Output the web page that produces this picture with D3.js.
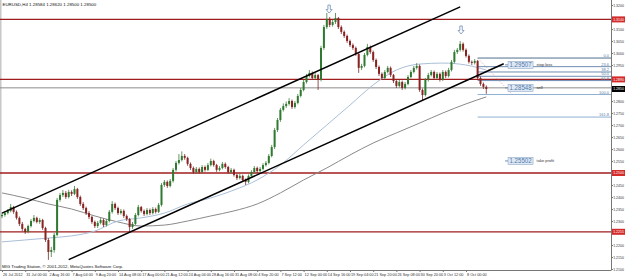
<!DOCTYPE html>
<html>
<head>
<meta charset="utf-8">
<script src="https://cdn.jsdelivr.net/npm/d3@7/dist/d3.min.js"></script>
<style>
body{margin:0;background:#fff;}
svg{display:block;font-family:"Liberation Sans",Arial,sans-serif;}
</style>
</head>
<body>
<div id="chart"></div>
<script>
// EURUSD H4, prices in points (x 0.0001)
var firstOpen = 12320;
var closePts = [
12325,12333,12342,12358,12338,12313,12288,12267,12254,12279,
12300,12313,12296,12304,12271,12221,12171,12179,12242,12388,
12408,12417,12400,12421,12413,12433,12400,12371,12354,12333,
12317,12296,12279,12292,12304,12283,12300,12338,12371,12354,
12333,12342,12321,12308,12275,12288,12325,12358,12342,12329,
12346,12333,12350,12338,12367,12450,12463,12446,12467,12513,
12542,12554,12571,12563,12538,12521,12504,12517,12504,12525,
12513,12533,12550,12533,12513,12521,12538,12525,12504,12513,
12492,12479,12488,12471,12463,12488,12504,12521,12508,12517,
12533,12542,12571,12608,12679,12721,12763,12779,12788,12800,
12775,12792,12821,12846,12879,12904,12917,12896,12908,12888,
13021,13108,13142,13117,13129,13146,13108,13088,13071,13050,
13033,13021,12996,12938,12946,12992,13025,13004,12971,12942,
12913,12896,12921,12938,12908,12883,12863,12879,12854,12871,
12900,12921,12938,12946,12846,12825,12888,12908,12921,12896,
12913,12888,12921,12904,12929,12963,13004,13013,13038,13013,
12988,12963,12959,12967,12896,12871,12859,12850];
var highPts = [
12334,12340,12350,12371,12363,12344,12319,12296,12272,12285,
12308,12325,12318,12312,12309,12276,12229,12192,12250,12396,
12417,12429,12425,12430,12428,12446,12438,12406,12379,12360,
12341,12322,12302,12300,12313,12310,12308,12346,12383,12377,
12360,12350,12348,12327,12313,12296,12333,12367,12363,12348,
12354,12352,12358,12356,12375,12458,12471,12469,12475,12521,
12550,12579,12590,12579,12568,12544,12527,12525,12523,12533,
12531,12542,12560,12555,12538,12529,12546,12544,12530,12521,
12518,12497,12496,12493,12477,12494,12512,12529,12527,12525,
12541,12550,12579,12617,12688,12729,12771,12790,12798,12812,
12806,12800,12829,12854,12888,12913,12929,12923,12917,12913,
13030,13117,13167,13150,13138,13167,13150,13115,13094,13077,
13056,13040,13027,13002,12955,13000,13038,13031,13010,12977,
12948,12919,12929,12946,12944,12913,12888,12888,12885,12879,
12908,12929,12946,12958,12952,12852,12896,12917,12929,12927,
12921,12919,12929,12927,12938,12971,13013,13021,13050,13044,
13019,12994,12969,12975,12971,12902,12877,12865];
var lowPts = [
12312,12318,12327,12336,12330,12306,12279,12258,12246,12249,
12273,12294,12290,12288,12263,12213,12138,12150,12168,12236,
12380,12400,12392,12394,12404,12408,12392,12363,12346,12325,
12308,12288,12271,12271,12286,12275,12277,12294,12331,12346,
12325,12327,12313,12300,12254,12267,12282,12319,12335,12321,
12323,12325,12327,12331,12333,12360,12442,12438,12440,12460,
12506,12535,12548,12555,12530,12513,12496,12498,12497,12499,
12506,12508,12527,12526,12505,12507,12515,12518,12497,12498,
12485,12471,12473,12463,12450,12457,12482,12498,12500,12502,
12511,12527,12536,12565,12600,12671,12713,12756,12771,12781,
12767,12768,12786,12815,12840,12873,12898,12888,12890,12846,
12882,13013,13100,13108,13110,13121,13100,13079,13063,13042,
13025,13013,12988,12917,12929,12940,12986,12996,12963,12933,
12904,12888,12890,12915,12900,12875,12854,12856,12846,12848,
12865,12894,12915,12931,12838,12804,12819,12881,12902,12888,
12890,12881,12883,12896,12898,12923,12956,12996,13006,13006,
12981,12956,12950,12952,12888,12863,12850,12830];

// moving averages, read every 8 bars
var maIdx  = [0,8,16,24,32,40,48,56,64,72,80,88,96,104,112,120,128,136,144,152,160,167];
var maSlow = [12417,12396,12371,12350,12321,12296,12279,12283,12300,12321,12342,12371,12417,12471,12521,12575,12625,12667,12708,12750,12788,12817];
var maFast = [12213,12221,12229,12238,12258,12300,12313,12333,12371,12396,12429,12471,12533,12617,12700,12783,12867,12929,12954,12958,12950,12929];

var xLabels = ["26 Jul 2012","31 Jul 00:00","2 Aug 16:00","7 Aug 04:00","9 Aug 20:00","14 Aug 08:00","17 Aug 00:00",
  "21 Aug 12:00","24 Aug 04:00","28 Aug 16:00","31 Aug 08:00","4 Sep 20:00","7 Sep 12:00","12 Sep 00:00",
  "14 Sep 16:00","19 Sep 04:00","21 Sep 20:00","26 Sep 08:00","30 Sep 20:00","3 Oct 12:00","8 Oct 00:00"];
var xLabelIdx = [0,8,16,24,32,40,48,56,64,72,80,88,96,104,112,120,128,136,144,152,160];

var priceTicks = [1.3200,1.3150,1.3100,1.3050,1.3000,1.2950,1.2900,1.2850,1.2800,1.2750,1.2700,1.2650,
  1.2600,1.2550,1.2500,1.2450,1.2400,1.2350,1.2300,1.2250,1.2200,1.2150,1.2100];

var redLevels = [1.3140, 1.2890, 1.2500, 1.2255];
var bidPrice = 1.2850;
var sellPrice = 1.28548;

var channelUp = [[0, 1.2333], [158, 1.3192]];
var channelDn = [[23, 1.2139], [173, 1.2955]];

var fibRatios = [0, 23.6, 38.2, 50.0, 61.8, 100.0, 161.8];
var fibFrom = 164, fibHigh = 1.2979, fibLow = 1.2827, fibTo = 176;

var orders = [
  {label: "1.29507", price: 1.29507, name: "stop loss"},
  {label: "1.28548", price: 1.28548, name: "sell"},
  {label: "1.25502", price: 1.25502, name: "take profit"}];
var orderIdx = 174.5;

var arrows = [[112.8, 1.3183], [158.3, 1.3096]];

var W = 625, H = 277;
var plotR = 611, plotB = 270;

var svg = d3.select("#chart").append("svg").attr("width", W).attr("height", H);

var x = d3.scaleLinear().domain([0, 210]).range([2, 2 + 2.9 * 210]);
var y = d3.scaleLinear().domain([1.2100, 1.3200]).range([269, 5]);

svg.append("rect").attr("width", W).attr("height", H).attr("fill", "#fff");
svg.append("rect").attr("x", 0).attr("y", 0).attr("width", 1.5).attr("height", plotB).attr("fill", "#c8c8c8");

var plot = svg.append("g");

// horizontal levels
plot.selectAll("line.red").data(redLevels).enter().append("line")
  .attr("x1", 0).attr("x2", plotR).attr("y1", function(d){ return y(d); }).attr("y2", function(d){ return y(d); })
  .attr("stroke", "#a11d1d").attr("stroke-width", 1.3);

plot.append("line").attr("x1", 0).attr("x2", plotR).attr("y1", y(sellPrice)).attr("y2", y(sellPrice))
  .attr("stroke", "#8c8c8c").attr("stroke-width", 1);

// fibo
var fibG = plot.append("g");
fibRatios.forEach(function(r){
  var p = fibHigh - (fibHigh - fibLow) * r / 100;
  var col = r >= 100 ? "#8fb0d2" : "#6f8db3";
  if (r == 0) col = "#4f6f8f";
  fibG.append("line").attr("x1", x(fibFrom)).attr("x2", plotR).attr("y1", y(p)).attr("y2", y(p))
    .attr("stroke", col).attr("stroke-width", 1);
  fibG.append("text").attr("x", 609).attr("y", y(p) - 1).attr("text-anchor", "end")
    .attr("font-size", "4px").attr("fill", "#5b7ea8").text(r.toFixed(1));
});
fibG.append("line").attr("x1", x(fibFrom)).attr("y1", y(fibHigh)).attr("x2", x(fibTo)).attr("y2", y(fibLow))
  .attr("stroke", "#d08a8a").attr("stroke-width", 0.8).attr("stroke-dasharray", "1,1.5");

// moving averages
var maLine = d3.line().x(function(d){ return x(d[0]); }).y(function(d){ return y(d[1] / 10000); }).curve(d3.curveMonotoneX);
plot.append("path").attr("d", maLine(maIdx.map(function(d, i){ return [d, maSlow[i]]; })))
  .attr("fill", "none").attr("stroke", "#8a8a8a").attr("stroke-width", 1);
plot.append("path").attr("d", maLine(maIdx.map(function(d, i){ return [d, maFast[i]]; })))
  .attr("fill", "none").attr("stroke", "#a9bfd8").attr("stroke-width", 1);

// candles
var candles = closePts.map(function(c, i){
  return {i: i, o: (i == 0 ? firstOpen : closePts[i-1]) / 10000, c: c / 10000, h: highPts[i] / 10000, l: lowPts[i] / 10000};
});
var cg = plot.selectAll("g.candle").data(candles).enter().append("g");
cg.append("line")
  .attr("x1", function(d){ return x(d.i); }).attr("x2", function(d){ return x(d.i); })
  .attr("y1", function(d){ return y(d.h); }).attr("y2", function(d){ return y(d.l); })
  .attr("stroke", function(d){ return d.c >= d.o ? "#3f7f3f" : "#7a2a2a"; }).attr("stroke-width", 0.8);
cg.append("rect")
  .attr("x", function(d){ return x(d.i) - 1; }).attr("width", 2)
  .attr("y", function(d){ return y(Math.max(d.o, d.c)); })
  .attr("height", function(d){ return Math.max(0.8, Math.abs(y(d.o) - y(d.c))); })
  .attr("fill", function(d){ return d.c >= d.o ? "#2f7a30" : "#8b2222"; });

// channel
[channelUp, channelDn].forEach(function(ch){
  plot.append("line").attr("x1", x(ch[0][0])).attr("y1", y(ch[0][1])).attr("x2", x(ch[1][0])).attr("y2", y(ch[1][1]))
    .attr("stroke", "#000").attr("stroke-width", 1.5);
});

// arrows
arrows.forEach(function(a){
  var cx = x(a[0]), cy = y(a[1]);
  plot.append("path")
    .attr("d", "M" + (cx - 1.2) + "," + (cy - 4) + "h2.4v4.5h1.8l-3,3.5l-3,-3.5h1.8z")
    .attr("fill", "#fff").attr("stroke", "#6f8db3").attr("stroke-width", 0.8);
});

// order labels
orders.forEach(function(o){
  var bx = x(orderIdx), by = y(o.price);
  plot.append("line").attr("x1", bx - 3).attr("x2", bx).attr("y1", by).attr("y2", by).attr("stroke", "#6f8db3");
  plot.append("rect").attr("x", bx).attr("y", by - 3.5).attr("width", 25).attr("height", 7)
    .attr("fill", "#dfe8f4").attr("stroke", "#8fa9c9").attr("stroke-width", 0.6);
  plot.append("text").attr("x", bx + 1.5).attr("y", by + 2.5)
    .attr("font-size", "7px").attr("fill", "#4f78a8")
    .attr("textLength", 22).attr("lengthAdjust", "spacingAndGlyphs").text(o.label);
  plot.append("text").attr("x", bx + 28.5).attr("y", by + 1.4)
    .attr("font-size", "4px").attr("fill", "#333").text(o.name);
});

// right price axis
var special = redLevels.concat([bidPrice]);
var yAxis = d3.axisRight(y).tickSize(2).tickFormat(d3.format(".4f"))
  .tickValues(priceTicks.filter(function(p){
    return special.every(function(s){ return Math.abs(y(s) - y(p)) > 5; });
  }));
var ya = svg.append("g").attr("transform", "translate(" + plotR + ",0)").call(yAxis);
ya.select(".domain").attr("d", "M0.5,0V" + plotB).attr("stroke", "#777");
ya.selectAll(".tick line").attr("stroke", "#777");
ya.selectAll(".tick text").attr("font-size", "3.5px").attr("fill", "#333").attr("x", 2.2);

redLevels.forEach(function(p){
  svg.append("rect").attr("x", plotR + 1).attr("y", y(p) - 3).attr("width", 14).attr("height", 6).attr("fill", "#d42a2a");
  svg.append("text").attr("x", plotR + 2.2).attr("y", y(p) + 1.3).attr("font-size", "3.5px").attr("fill", "#fff").text(p.toFixed(4));
});
svg.append("rect").attr("x", plotR + 1).attr("y", y(bidPrice) - 3).attr("width", 14).attr("height", 6).attr("fill", "#000");
svg.append("text").attr("x", plotR + 2.2).attr("y", y(bidPrice) + 1.3).attr("font-size", "3.5px").attr("fill", "#fff").text(bidPrice.toFixed(4));

// bottom time axis
var xAxis = d3.axisBottom(x).tickValues(xLabelIdx).tickSize(2).tickFormat(function(d, i){ return xLabels[i]; });
var xa = svg.append("g").attr("transform", "translate(0," + plotB + ")").call(xAxis);
xa.select(".domain").attr("d", "M0,0.5H" + (plotR + 0.5)).attr("stroke", "#777");
xa.selectAll(".tick line").attr("stroke", "#777");
xa.selectAll(".tick text").attr("font-size", "3.8px").attr("fill", "#333")
  .attr("text-anchor", "start").attr("x", 0.5).attr("y", 3).attr("dy", "0.71em");

// header and footer
svg.append("text").attr("x", 2.5).attr("y", 5.5).attr("font-size", "4.4px").attr("fill", "#111")
  .text("EURUSD,H4  1.28584 1.28620 1.28500 1.28500");
svg.append("text").attr("x", 2).attr("y", 268).attr("font-size", "4.3px").attr("fill", "#111")
  .text("MIG Trading Station, \u00a9 2001-2012, MetaQuotes Software Corp.");
</script>
</body>
</html>
